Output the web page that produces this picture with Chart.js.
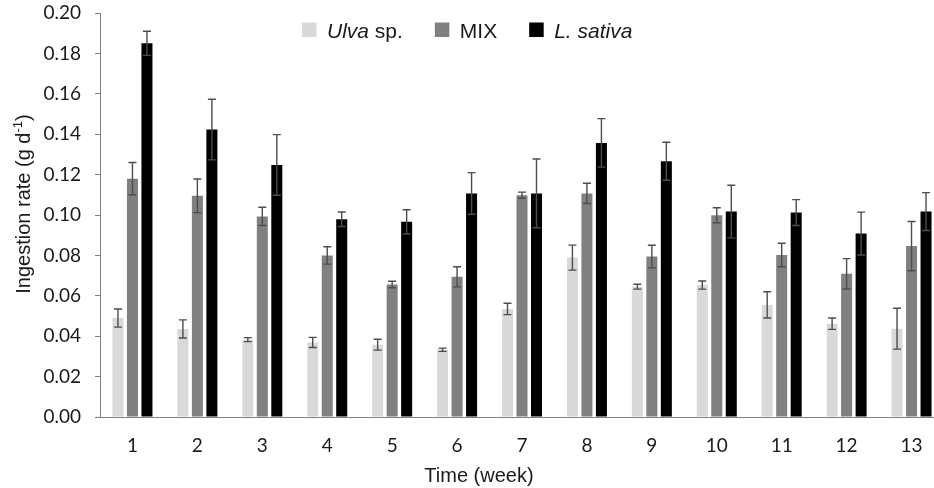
<!DOCTYPE html>
<html lang="en">
<head>
  <meta charset="UTF-8" />
  <title>Ingestion rate per week</title>
  <script src="https://cdn.jsdelivr.net/npm/chart.js"></script>
  <style>
    html, body {
      margin: 0;
      padding: 0;
      overflow: hidden;
      background: #fff;
    }
    canvas {
      display: block;
    }
  </style>
</head>
<body>
<canvas id="ingestChart" width="944" height="488"></canvas>

<script>
  // data
  const weeks = ['1', '2', '3', '4', '5', '6', '7', '8', '9', '10', '11', '12', '13'];
  const yTicks = [0, 0.02, 0.04, 0.06, 0.08, 0.10, 0.12, 0.14, 0.16, 0.18, 0.20];

  const ulva      = [0.049, 0.0436, 0.0383, 0.0369, 0.0358, 0.0333, 0.0535, 0.0789, 0.0645, 0.0653, 0.0555, 0.0462, 0.0437];
  const ulvaErr   = [0.0045, 0.0045, 0.001, 0.0025, 0.0027, 0.0008, 0.0028, 0.0062, 0.0012, 0.002, 0.0065, 0.0028, 0.0101];
  const mix       = [0.118, 0.1095, 0.0993, 0.080, 0.0656, 0.0694, 0.1098, 0.1107, 0.0794, 0.0999, 0.0802, 0.0709, 0.0846];
  const mixErr    = [0.008, 0.0083, 0.0045, 0.0043, 0.0016, 0.005, 0.0015, 0.005, 0.0056, 0.0037, 0.0058, 0.0075, 0.0122];
  const sativa    = [0.185, 0.1423, 0.1248, 0.0979, 0.0966, 0.1107, 0.1107, 0.1357, 0.1266, 0.1017, 0.1012, 0.0908, 0.1017];
  const sativaErr = [0.006, 0.015, 0.015, 0.0036, 0.006, 0.0103, 0.017, 0.012, 0.0094, 0.013, 0.0064, 0.0106, 0.0094];

  // legend text: [text, italic]
  const legendParts = [
    [['Ulva', true], [' sp.', false]],
    [['MIX', false]],
    [['L. sativa', true]]
  ];
  const barColors = ['#d9d9d9', '#808080', '#000000'];

  const errorBars = {
    id: 'errorBars',
    afterDatasetsDraw(chart) {
      const ctx = chart.ctx;
      const yScale = chart.scales.y;
      ctx.save();
      ctx.strokeStyle = '#4d4d4d';
      ctx.lineWidth = 1.4;
      chart.data.datasets.forEach((ds, di) => {
        const meta = chart.getDatasetMeta(di);
        meta.data.forEach((bar, i) => {
          const v = ds.data[i];
          const e = ds.errors[i];
          const yTop = yScale.getPixelForValue(v + e);
          const yBot = yScale.getPixelForValue(v - e);
          ctx.beginPath();
          ctx.moveTo(bar.x, yTop);
          ctx.lineTo(bar.x, yBot);
          ctx.moveTo(bar.x - 4, yTop);
          ctx.lineTo(bar.x + 4, yTop);
          ctx.moveTo(bar.x - 4, yBot);
          ctx.lineTo(bar.x + 4, yBot);
          ctx.stroke();
        });
      });
      ctx.restore();
    }
  };

  const labelsPlugin = {
    id: 'labelsPlugin',
    afterDraw(chart) {
      const ctx = chart.ctx;
      ctx.save();
      ctx.fillStyle = '#1a1a1a';
      ctx.textBaseline = 'alphabetic';

      // legend
      let x = 302;
      legendParts.forEach((parts, k) => {
        ctx.fillStyle = barColors[k];
        ctx.fillRect(x, 22.5, 14.5, 14.5);
        x += 25;
        ctx.fillStyle = '#1a1a1a';
        parts.forEach(([txt, it]) => {
          ctx.font = (it ? 'italic ' : '') + '21px "Liberation Sans", Arial, sans-serif';
          ctx.fillText(txt, x, 37.5);
          x += ctx.measureText(txt).width;
        });
        x += 32;
      });

      // x title
      ctx.font = '20px "Liberation Sans", Arial, sans-serif';
      ctx.textAlign = 'center';
      ctx.fillText('Time (week)', 479, 482);

      // y title with superscript
      ctx.textAlign = 'left';
      ctx.translate(30, 204);
      ctx.rotate(-Math.PI / 2);
      const mainFont = '20px "Liberation Sans", Arial, sans-serif';
      const supFont = '13px "Liberation Sans", Arial, sans-serif';
      ctx.font = mainFont;
      const a = 'Ingestion rate (g d';
      const wa = ctx.measureText(a).width;
      const wc = ctx.measureText(')').width;
      ctx.font = supFont;
      const wb = ctx.measureText('-1').width;
      let sx = -(wa + wb + wc) / 2;
      ctx.font = mainFont;
      ctx.fillText(a, sx, 0);
      sx += wa;
      ctx.font = supFont;
      ctx.fillText('-1', sx, -8);
      sx += wb;
      ctx.font = mainFont;
      ctx.fillText(')', sx, 0);
      ctx.restore();
    }
  };

  function makeChart() {
    const ctx = document.getElementById('ingestChart').getContext('2d');
    return new Chart(ctx, {
      type: 'bar',
      data: {
        labels: weeks,
        datasets: [
          { label: 'Ulva sp.', data: ulva, errors: ulvaErr, backgroundColor: barColors[0] },
          { label: 'MIX', data: mix, errors: mixErr, backgroundColor: barColors[1] },
          { label: 'L. sativa', data: sativa, errors: sativaErr, backgroundColor: barColors[2] }
        ]
      },
      options: {
        responsive: false,
        animation: false,
        layout: { padding: { top: 13, left: 0, right: 0, bottom: 0 } },
        datasets: {
          bar: { barPercentage: 0.76, categoryPercentage: 0.67 }
        },
        plugins: {
          legend: { display: false },
          tooltip: { enabled: false }
        },
        scales: {
          x: {
            grid: { display: false, drawTicks: false },
            border: { display: true, color: '#808080', width: 1 },
            ticks: {
              color: '#1a1a1a',
              padding: 17,
              font: { family: 'Lato, sans-serif', size: 19 }
            },
            afterFit(scale) {
              scale.height = 71;
              scale.paddingLeft = 0;
              scale.paddingRight = 0;
            }
          },
          y: {
            min: 0,
            max: 0.2,
            afterBuildTicks(scale) {
              scale.ticks = yTicks.map(v => ({ value: v }));
            },
            grid: {
              drawOnChartArea: false,
              drawTicks: true,
              tickLength: 5,
              color: '#808080'
            },
            border: { display: true, color: '#808080', width: 1 },
            ticks: {
              color: '#1a1a1a',
              padding: 14,
              font: { family: 'Lato, sans-serif', size: 19 },
              callback: v => Number(v).toFixed(2)
            },
            afterFit(scale) {
              scale.width = 100;
              scale.paddingTop = 0;
              scale.paddingBottom = 0;
            }
          }
        }
      },
      plugins: [errorBars, labelsPlugin]
    });
  }

  makeChart();
</script>
</body>
</html>
